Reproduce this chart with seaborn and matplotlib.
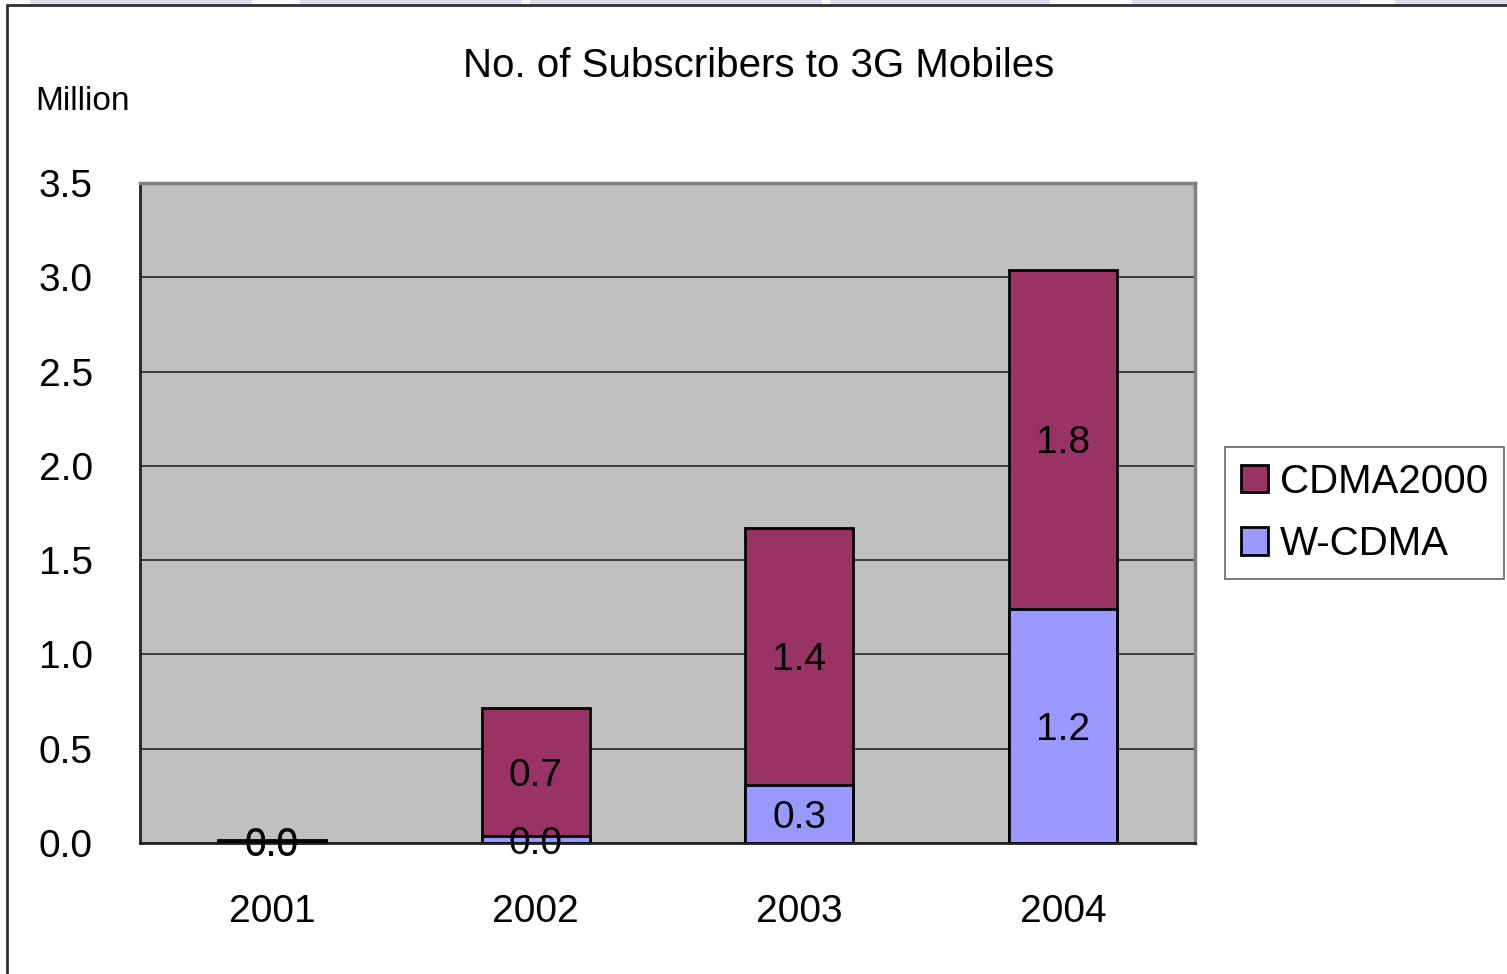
import matplotlib
matplotlib.use("Agg")
import matplotlib.pyplot as plt
import seaborn as sns
import pandas as pd
import numpy as np
from matplotlib.lines import Line2D
from matplotlib.patches import Patch, Rectangle

# Subscribers (million) by year and technology
years = ["2001", "2002", "2003", "2004"]
wcdma = [0.008, 0.035, 0.31, 1.24]
cdma2000 = [0.008, 0.68, 1.36, 1.80]
y_ticks = [0.0, 0.5, 1.0, 1.5, 2.0, 2.5, 3.0, 3.5]

CDMA_COLOR = "#993366"
WCDMA_COLOR = "#9999FF"
PLOT_BG = "#C0C0C0"

sns.set_style("white")
plt.rcParams["font.family"] = ["Liberation Sans", "DejaVu Sans"]
plt.rcParams["text.color"] = "black"
plt.rcParams["xtick.labelcolor"] = "black"
plt.rcParams["ytick.labelcolor"] = "black"

df = pd.DataFrame({"year": years, "W-CDMA": wcdma, "CDMA2000": cdma2000})
df["total"] = df["W-CDMA"] + df["CDMA2000"]

W, H = 1507, 974
fig = plt.figure(figsize=(W / 100, H / 100), dpi=100)
fig.patch.set_facecolor("white")

# faint page strip along the top edge
for x0, x1 in [(30, 252), (300, 522), (530, 822), (830, 1050), (1132, 1360), (1395, 1507)]:
    fig.add_artist(Rectangle((x0 / W, 1 - 5 / H), (x1 - x0) / W, 5 / H,
                             transform=fig.transFigure, facecolor="#DCDCF0",
                             edgecolor="none", zorder=0))

# chart frame
fig.add_artist(Line2D([7 / W, 7 / W], [0, 1 - 5 / H], transform=fig.transFigure,
                      color="#303030", lw=2))
fig.add_artist(Line2D([7 / W, 1], [1 - 5 / H, 1 - 5 / H], transform=fig.transFigure,
                      color="#303030", lw=2))

ax = fig.add_axes([140 / W, 131 / H, 1055 / W, 660 / H])
ax.set_facecolor(PLOT_BG)

bar_kws = dict(width=0.41, edgecolor="black", linewidth=2, saturation=1,
               errorbar=None, ax=ax, zorder=3)
sns.barplot(data=df, x="year", y="total", color=CDMA_COLOR, **bar_kws)
sns.barplot(data=df, x="year", y="W-CDMA", color=WCDMA_COLOR, **bar_kws)

ax.set_xlim(-0.5, 3.5)
ax.set_ylim(0, 3.5)
ax.set_xlabel("")
ax.set_ylabel("")

ax.set_axisbelow(True)
ax.yaxis.grid(True, color="#1a1a1a", linewidth=1.1)
ax.xaxis.grid(False)

TICK_FS = 28
ax.set_yticks(y_ticks)
ax.set_yticklabels([f"{v:.1f}" for v in y_ticks])
ax.tick_params(axis="y", direction="in", length=14, width=1.5, color="#606060",
               pad=34, labelsize=TICK_FS, labelcolor="black")
ax.tick_params(axis="x", which="major", length=0, pad=37, labelsize=TICK_FS,
               labelcolor="black")
ax.set_xticks([0.5, 1.5, 2.5], minor=True)
ax.tick_params(axis="x", which="minor", direction="in", length=15, width=1.5,
               color="#606060")

for side in ["left", "bottom"]:
    ax.spines[side].set_color("#202020")
    ax.spines[side].set_linewidth(2)
for side in ["top", "right"]:
    ax.spines[side].set_color("#808080")
    ax.spines[side].set_linewidth(2.5)

# value labels centred in each segment
for i, (w, c) in enumerate(zip(wcdma, cdma2000)):
    ax.text(i, w / 2, f"{w:.1f}", ha="center", va="center_baseline",
            fontsize=TICK_FS, color="black", zorder=5)
    ax.text(i, w + c / 2, f"{c:.1f}", ha="center", va="center_baseline",
            fontsize=TICK_FS, color="black", zorder=5)

fig.text(759 / W, 1 - 66 / H, "No. of Subscribers to 3G Mobiles",
         ha="center", va="center", fontsize=29, color="black")
fig.text(35 / W, 1 - 102 / H, "Million", ha="left", va="center", fontsize=24,
         color="black")

handles = [Patch(facecolor=CDMA_COLOR, edgecolor="black", linewidth=2),
           Patch(facecolor=WCDMA_COLOR, edgecolor="black", linewidth=2)]
leg = fig.legend(handles, ["CDMA2000", "W-CDMA"], loc="center",
                 bbox_to_anchor=((1228 + 1501) / 2 / W, 1 - 513 / H),
                 fontsize=29, frameon=True, fancybox=False, edgecolor="#404040",
                 handlelength=0.67, handleheight=0.67, handletextpad=0.3,
                 borderpad=0.4, labelspacing=0.6, borderaxespad=0,
                 labelcolor="black")
leg.get_frame().set_linewidth(1.2)

fig.savefig("out.png", dpi=100)
